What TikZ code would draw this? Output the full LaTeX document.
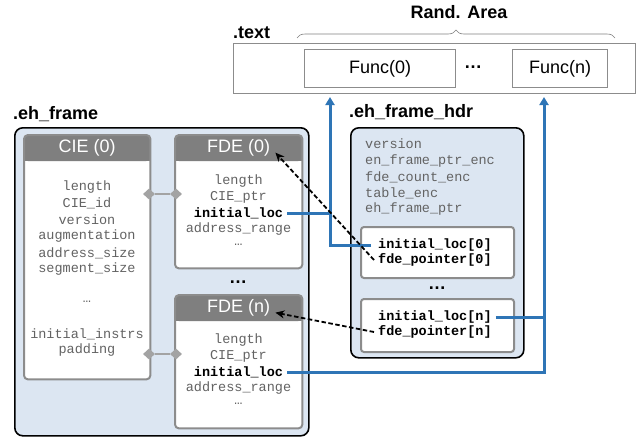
\documentclass[tikz,border=0pt]{standalone}
\usepackage{fontspec}
\setmainfont{Liberation Sans}
\setmonofont{Liberation Mono}
\usetikzlibrary{arrows.meta,shapes.geometric,decorations.pathreplacing}

\definecolor{areablue}{HTML}{DCE6F2}
\definecolor{linkblue}{HTML}{2E75B6}
\definecolor{hdrgray}{HTML}{7F7F7F}
\definecolor{edgegray}{HTML}{8C8C8C}
\definecolor{fieldgray}{HTML}{636363}
\definecolor{knobgray}{HTML}{A3A3A3}

\begin{document}
\begin{tikzpicture}[x=1pt,y=-1pt,
  sectitle/.style={font=\fontsize{18}{20}\selectfont\bfseries, inner sep=0pt},
  section/.style={draw=black, line width=1.6pt, fill=areablue, rounded corners=8pt,
    inner sep=0pt, anchor=north west},
  cardbody/.style={fill=white, inner sep=0pt, anchor=north west},
  headtext/.style={text=white, font=\fontsize{18}{20}\selectfont, inner sep=2pt},
  field/.style={font=\fontsize{13.5}{16}\selectfont\ttfamily, text=fieldgray, inner sep=4pt},
  keyfield/.style={font=\fontsize{13.5}{16}\selectfont\ttfamily\bfseries, text=black, inner sep=4pt},
  slot/.style={draw=edgegray, line width=2pt, fill=white, rounded corners=3pt,
    inner sep=0pt, anchor=north west},
  funcbox/.style={draw=edgegray, line width=1.4pt, fill=white, inner sep=0pt,
    anchor=north west, font=\fontsize{18}{20}\selectfont},
  dots/.style={font=\fontsize{18}{20}\selectfont\bfseries, inner sep=0pt},
  knob/.style={diamond, fill=knobgray, minimum width=12pt, minimum height=11pt, inner sep=0pt},
  knobline/.style={draw=knobgray, line width=2.6pt},
  link/.style={draw=linkblue, line width=3pt},
  linktip/.style={-{Triangle[width=9pt,length=8pt]}},
  ptr/.style={draw=black, line width=1.8pt, dash pattern=on 4.5pt off 2.5pt,
    -{Stealth[length=9pt,width=8pt]}}
]
\fill[white] (0,0) rectangle (636,437);
\useasboundingbox (0,0) rectangle (636,437);

% ---------- .text section ----------
\node[sectitle, anchor=west] (text-title) at (233,33) {.text};
\node[draw=edgegray, line width=1pt, minimum width=402pt, minimum height=50pt,
      inner sep=0pt, anchor=north west] (textsec) at (233,43) {};
\node[funcbox, minimum width=151pt, minimum height=38pt] (func0) at (304,49) {};
\node at (func0.center) [font=\fontsize{18}{20}\selectfont] (func0-label) {Func(0)};
\node[funcbox, minimum width=95pt, minimum height=38pt] (funcn) at (512,49) {};
\node at (funcn.center) [font=\fontsize{18}{20}\selectfont] (funcn-label) {Func(n)};
\node[dots] (func-dots) at (473,67) {…};

% randomised area brace
\coordinate (rand-left) at (297,38);
\coordinate (rand-right) at (615,38);
\draw[decorate, decoration={brace, amplitude=8pt}, draw=gray, line width=0.6pt]
  (rand-left) -- (rand-right);
\node[sectitle] (rand-title) at (459,12.5) {Rand. Area};

% ---------- .eh_frame section ----------
\node[sectitle, anchor=west] (ehf-title) at (13,114) {.eh\_frame};
\node[section, minimum width=294pt, minimum height=308pt] (ehframe) at (14,127) {};

\foreach \nm/\x/\y/\w/\h/\ttl in {cie/24/135/126/244/CIE (0),
                                  fde0/175/135/127/133/FDE (0),
                                  fden/175/295/127/133/FDE (n)} {
  \node[cardbody, minimum width=\w pt, minimum height=\h pt] (\nm) at (\x,\y) {};
  \fill[hdrgray, rounded corners=4pt] (\nm.north west) rectangle ([yshift=-26pt]\nm.north east);
  \fill[hdrgray] ([yshift=-13pt]\nm.north west) rectangle ([yshift=-26pt]\nm.north east);
  \draw[edgegray, line width=2pt, rounded corners=4pt] (\nm.north west) rectangle (\nm.south east);
  \node[headtext] (\nm-title) at ([yshift=-13pt]\nm.north) {\ttl};
}

% CIE fields
\foreach \t/\yy [count=\i] in {length/187, CIE\_id/203, version/220, augmentation/236,
    address\_size/253, segment\_size/269, …/302, initial\_instrs/334, padding/350}
  \node[field] (cie-f\i) at (87,\yy) {\t};

% FDE fields
\foreach \t/\yy [count=\i] in {length/181, CIE\_ptr/197, address\_range/229, …/245}
  \node[field] (fde0-f\i) at (238.5,\yy) {\t};
\node[keyfield] (fde0-loc) at (238.5,213) {initial\_loc};

\foreach \t/\yy [count=\i] in {length/340, CIE\_ptr/356, address\_range/388, …/404}
  \node[field] (fden-f\i) at (238.5,\yy) {\t};
\node[keyfield] (fden-loc) at (238.5,372) {initial\_loc};

\node[dots] (fde-dots) at (238,282) {…};

% CIE <-> FDE links
\node[knob] (k0a) at (149,194) {};
\node[knob] (k0b) at (176,194) {};
\draw[knobline] (k0a) -- (k0b);
\node[knob] (kna) at (149,354) {};
\node[knob] (knb) at (176,354) {};
\draw[knobline] (kna) -- (knb);

% ---------- .eh_frame_hdr section ----------
\node[sectitle, anchor=west] (hdr-title) at (349,112) {.eh\_frame\_hdr};
\node[section, minimum width=173pt, minimum height=230pt] (ehhdr) at (350,127) {};

\foreach \t/\yy [count=\i] in {version/144, en\_frame\_ptr\_enc/161, fde\_count\_enc/177,
    table\_enc/193, eh\_frame\_ptr/209}
  \node[field, anchor=west] (hdr-f\i) at (361,\yy) {\t};

\node[slot, minimum width=153pt, minimum height=51pt] (slot0) at (360,226) {};
\node[keyfield, anchor=west] (hdr-loc0) at (374,245) {initial\_loc[0]};
\node[keyfield, anchor=west] (hdr-ptr0) at (374,260) {fde\_pointer[0]};

\node[dots] (hdr-dots) at (437,288) {…};

\node[slot, minimum width=153pt, minimum height=53pt] (slotn) at (360,298) {};
\node[keyfield, anchor=west] (hdr-locn) at (374,317) {initial\_loc[n]};
\node[keyfield, anchor=west] (hdr-ptrn) at (374,332) {fde\_pointer[n]};

% ---------- code pointers ----------
\coordinate (tip0) at (330,97);
\coordinate (tipn) at (544,97);

\draw[link] (fde0-loc.east) -- (fde0-loc.east -| tip0);
\draw[link, linktip] ([xshift=-3pt]hdr-loc0.west) -| (tip0);
\draw[link, linktip] (fden-loc.east) -| (tipn);
\draw[link] (hdr-locn.east) -- (hdr-locn.east -| tipn);

% ---------- FDE pointers ----------
\draw[ptr] (hdr-ptr0.west) -- ([xshift=3pt]fde0-title.base east);
\draw[ptr] (hdr-ptrn.west) -- ([xshift=3pt]fden-title.base east);
\end{tikzpicture}
\end{document}
